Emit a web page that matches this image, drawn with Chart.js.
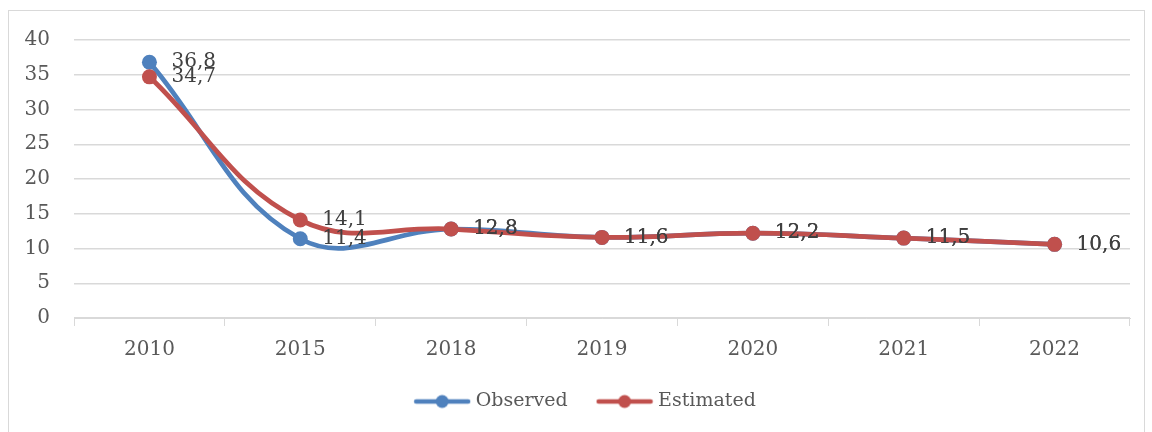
<!DOCTYPE html>
<html>
<head>
<meta charset="utf-8">
<script src="https://cdn.jsdelivr.net/npm/chart.js@4/dist/chart.umd.min.js"></script>
<style>
    body { margin: 0; background: #fff; }
    #frame { position: absolute; left: 8px; top: 10px; width: 1135px; height: 430px; border: 1px solid #d9d9d9; }
    #wrap { position: absolute; left: 0; top: 0; width: 1152px; height: 432px; }
</style>
</head>
<body>
<div id="frame"></div>
<div id="wrap"><canvas id="chart"></canvas></div>
<script>
const years = ['2010', '2015', '2018', '2019', '2020', '2021', '2022'];
const observed = [36.8, 11.4, 12.8, 11.6, 12.2, 11.5, 10.6];
const estimated = [34.7, 14.1, 12.8, 11.6, 12.2, 11.5, 10.6];
const yTicks = [0, 5, 10, 15, 20, 25, 30, 35, 40];

const BLUE = '#4f81bd';
const RED = '#c0504d';
const FONT = 'DejaVu Serif';

// legend marker: line with a dot in the middle
function legendMarker(color) {
    const c = document.createElement('canvas');
    c.width = 58;
    c.height = 16;
    const g = c.getContext('2d');
    g.strokeStyle = color;
    g.lineWidth = 4.5;
    g.lineCap = 'round';
    g.beginPath();
    g.moveTo(3, 8);
    g.lineTo(55, 8);
    g.stroke();
    g.fillStyle = color;
    g.beginPath();
    g.arc(29, 8, 6.5, 0, Math.PI * 2);
    g.fill();
    return c;
}
const markers = [legendMarker(BLUE), legendMarker(RED)];

// value labels to the right of each point
const valueLabels = {
    id: 'valueLabels',
    afterDatasetsDraw(chart) {
        const ctx = chart.ctx;
        ctx.save();
        ctx.font = '20px "' + FONT + '"';
        ctx.fillStyle = '#404040';
        ctx.textBaseline = 'middle';
        ctx.textAlign = 'left';
        chart.data.datasets.forEach((ds, i) => {
            const meta = chart.getDatasetMeta(i);
            meta.data.forEach((pt, j) => {
                ctx.fillText(ds.data[j].toFixed(1).replace('.', ','), pt.x + 22, pt.y);
            });
        });
        ctx.restore();
    }
};

// nudge the legend a bit left, to sit where the original has it
const legendShift = {
    id: 'legendShift',
    afterLayout(chart) {
        if (chart.legend) {
            chart.legend.left -= 15;
            chart.legend.right -= 15;
        }
    }
};

new Chart(document.getElementById('chart'), {
    type: 'line',
    data: {
        labels: years,
        datasets: [{
            label: 'Observed',
            data: observed,
            borderColor: BLUE,
            backgroundColor: BLUE,
            borderWidth: 4.8,
            tension: 0.4,
            pointRadius: 7.5,
            pointHoverRadius: 7.5,
            pointBorderWidth: 0,
            order: 2
        }, {
            label: 'Estimated',
            data: estimated,
            borderColor: RED,
            backgroundColor: RED,
            borderWidth: 4.8,
            tension: 0.4,
            pointRadius: 7.5,
            pointHoverRadius: 7.5,
            pointBorderWidth: 0,
            order: 1
        }]
    },
    options: {
        responsive: true,
        maintainAspectRatio: false,
        animation: false,
        layout: { padding: { top: 40, right: 22, bottom: 11, left: 0 } },
        plugins: {
            tooltip: { enabled: false },
            legend: {
                position: 'bottom',
                fullSize: false,
                labels: {
                    usePointStyle: true,
                    pointStyleWidth: 48,
                    boxHeight: 16,
                    padding: 33,
                    color: '#595959',
                    font: { family: FONT, size: 19 },
                    sort: (a, b) => a.datasetIndex - b.datasetIndex,
                    generateLabels(chart) {
                        const items = Chart.defaults.plugins.legend.labels.generateLabels(chart);
                        items.forEach(it => { it.pointStyle = markers[it.datasetIndex]; });
                        return items;
                    }
                }
            }
        },
        scales: {
            x: {
                offset: true,
                grid: { drawOnChartArea: false, drawTicks: true, tickLength: 8, color: '#d9d9d9', offset: true },
                border: { color: '#d9d9d9' },
                ticks: { color: '#595959', font: { family: FONT, size: 20 }, padding: 12 },
                afterFit(scale) { scale.height = 41; }
            },
            y: {
                min: 0,
                max: 40,
                afterBuildTicks(scale) { scale.ticks = yTicks.map(v => ({ value: v })); },
                grid: { color: '#d9d9d9', drawTicks: false, lineWidth: 1.5 },
                border: { display: false },
                ticks: { color: '#595959', font: { family: FONT, size: 20 }, padding: 24 },
                afterFit(scale) { scale.width = 74; }
            }
        }
    },
    plugins: [valueLabels, legendShift]
});
</script>
</body>
</html>
